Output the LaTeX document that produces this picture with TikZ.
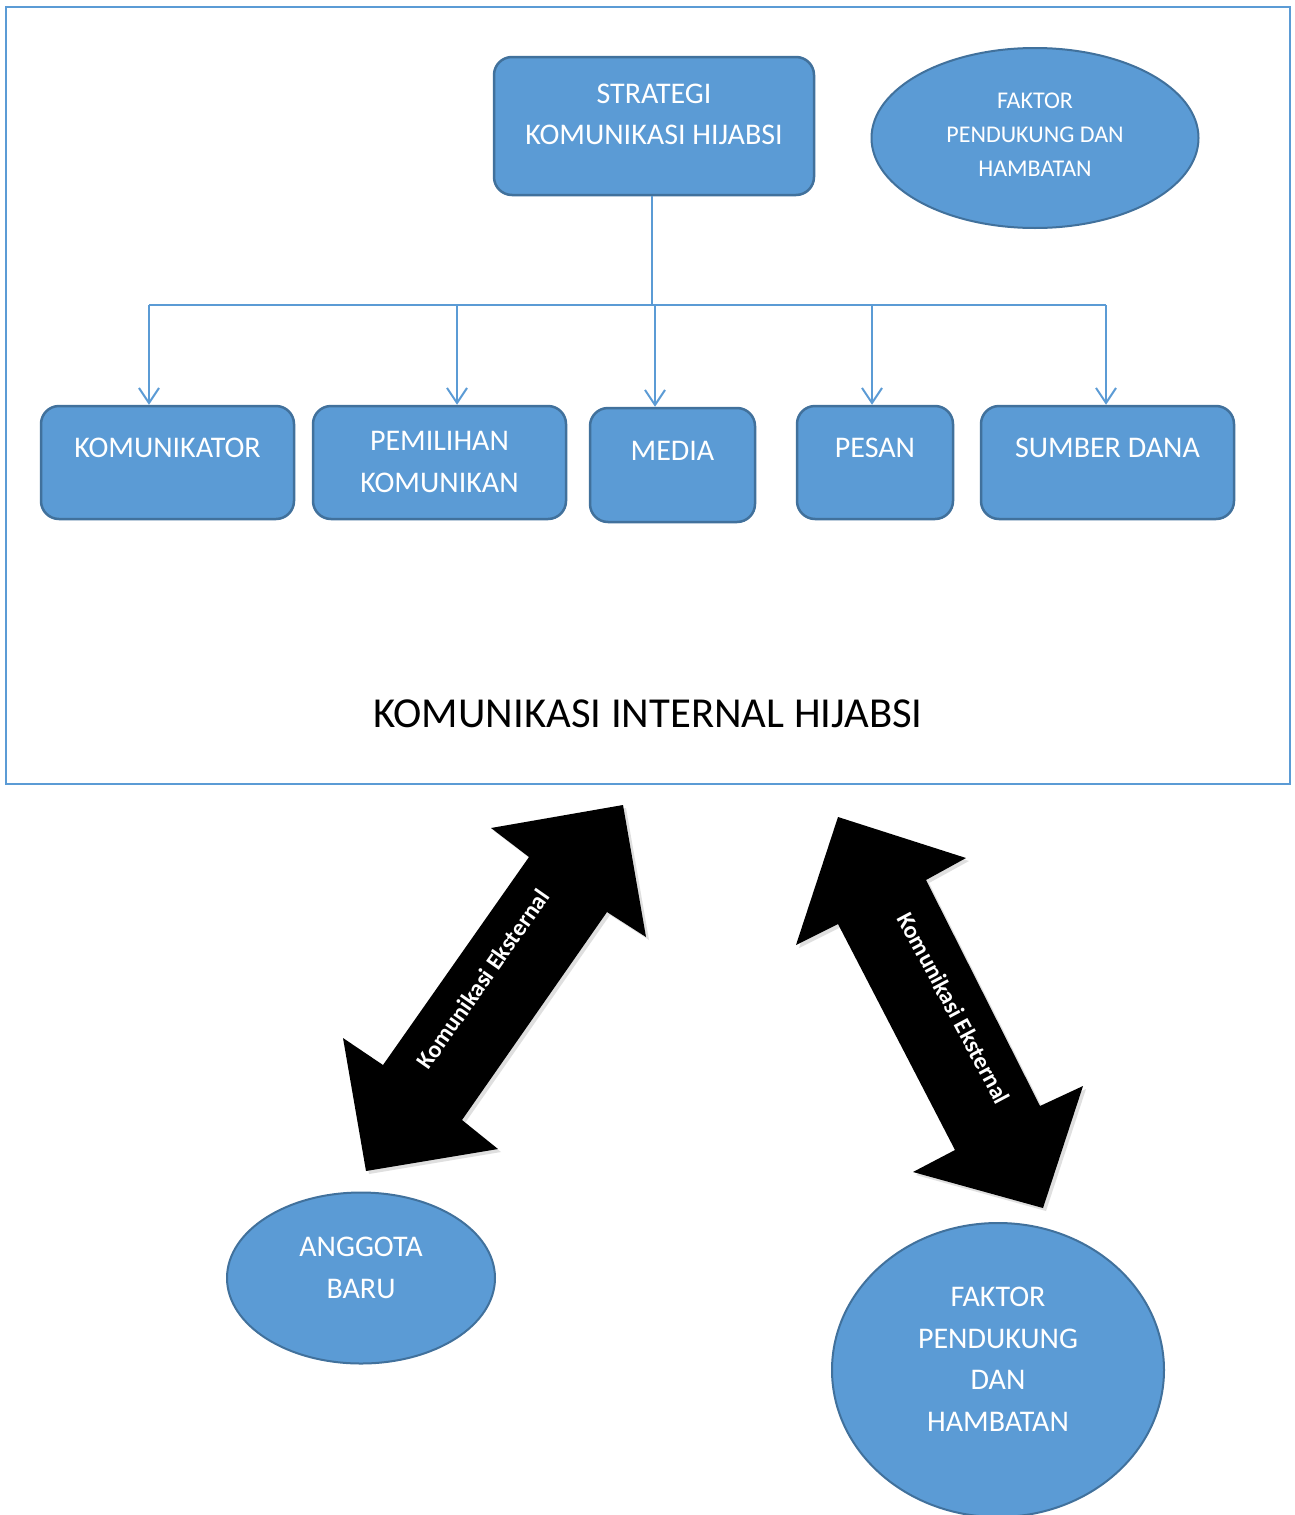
\documentclass[tikz,border=0pt]{standalone}
\usepackage{fontspec}
\setmainfont{Carlito}
\usetikzlibrary{arrows.meta,shapes.geometric,shadows}
\definecolor{fillblue}{HTML}{5B9BD5}
\definecolor{edgeblue}{HTML}{41719C}
\definecolor{linkblue}{HTML}{5B9BD5}

\begin{document}
\begin{tikzpicture}[x=1pt,y=-1pt,
  card/.style={draw=edgeblue, fill=fillblue, line width=2.5pt, rounded corners=18pt, inner sep=0pt},
  oval/.style={ellipse, draw=edgeblue, fill=fillblue, line width=2pt, inner sep=0pt},
  wtext/.style={text=white, align=center, font=\fontsize{30}{41.5}\selectfont, inner sep=0pt},
  link/.style={draw=linkblue, line width=2pt},
  droparrow/.style={link, -{Straight Barb[length=15pt,width=20pt]}},
  bigarrow/.style={fill=black, drop shadow={shadow xshift=3pt, shadow yshift=-3pt, opacity=0.25}},
  arrowlabel/.style={text=white, font=\bfseries\fontsize{24}{28}\selectfont, inner sep=0pt}
]
\useasboundingbox[fill=white] (0,0) rectangle (1295,1515);

% outer frame of the internal part
\node[draw=linkblue, line width=2.5pt, minimum width=1284pt, minimum height=777pt, inner sep=0pt] (frame) at (648,395.5) {};

% strategy box and side ellipse
\node[card, minimum width=320pt, minimum height=138pt] (strat) at (654,126) {};
\node[wtext] (stratT) at (654,114.5) {STRATEGI\\KOMUNIKASI HIJABSI};

\node[oval, minimum width=327pt, minimum height=180pt] (faktorA) at (1035,138) {};
\node[wtext, font=\fontsize{24}{34}\selectfont] (faktorAT) at (1035,134.5) {FAKTOR\\PENDUKUNG DAN\\HAMBATAN};

% element boxes
\node[card, minimum width=253pt, minimum height=113pt] (kom) at (167.5,462.5) {};
\node[wtext] (komT) at (167.5,448) {KOMUNIKATOR};

\node[card, minimum width=253pt, minimum height=113pt] (pem) at (439.5,462.5) {};
\node[wtext] (pemT) at (439.5,462) {PEMILIHAN\\KOMUNIKAN};

\node[card, minimum width=165pt, minimum height=114pt] (media) at (672.5,465) {};
\node[wtext] (mediaT) at (672.5,451) {MEDIA};

\node[card, minimum width=156pt, minimum height=113pt] (pesan) at (875,462.5) {};
\node[wtext] (pesanT) at (875,448) {PESAN};

\node[card, minimum width=253pt, minimum height=113pt] (sumber) at (1107.5,462.5) {};
\node[wtext] (sumberT) at (1107.5,448) {SUMBER DANA};

% connector tree
\coordinate (bus) at (652,305);
\coordinate (busL) at (149,305);
\coordinate (busR) at (1106,305);
\coordinate (dK) at (149,305);
\coordinate (dP) at (457,305);
\coordinate (dM) at (655,305);
\coordinate (dS) at (872,305);
\coordinate (dD) at (1106,305);

\draw[link] (strat.south -| bus) -- (bus);
\draw[link] (busL) -- (busR);
\draw[droparrow] (dK) -- (dK |- kom.north);
\draw[droparrow] (dP) -- (dP |- pem.north);
\draw[droparrow] (dM) -- (dM |- media.north);
\draw[droparrow] (dS) -- (dS |- pesan.north);
\draw[droparrow] (dD) -- (dD |- sumber.north);

% title of the internal part
\node[inner sep=0pt, font=\fontsize{42.7}{50}\selectfont] (title) at (648,714) {KOMUNIKASI INTERNAL HIJABSI};

% external communication block arrows
\fill[bigarrow] (623,805) -- (646,937) -- (607,912) -- (462,1120) -- (498,1149)
  -- (366,1171) -- (343,1038) -- (383,1065) -- (529,857) -- (491,828) -- cycle;
\node[arrowlabel, rotate=55] (extL) at (483,979) {Komunikasi Eksternal};

\fill[bigarrow] (838,817) -- (966,858) -- (926,880) -- (1040,1106) -- (1083,1086)
  -- (1043,1208) -- (913,1172) -- (955,1150) -- (838,924) -- (796,945) -- cycle;
\node[arrowlabel, rotate=-62] (extR) at (954,1008) {Komunikasi Eksternal};

% external parties
\node[oval, minimum width=268pt, minimum height=171pt] (anggota) at (361,1278) {};
\node[wtext] (anggotaT) at (361,1268) {ANGGOTA\\BARU};

\node[oval, minimum width=332pt, minimum height=294pt] (faktorB) at (998,1370) {};
\node[wtext] (faktorBT) at (998,1359) {FAKTOR\\PENDUKUNG\\DAN\\HAMBATAN};
\end{tikzpicture}
\end{document}
